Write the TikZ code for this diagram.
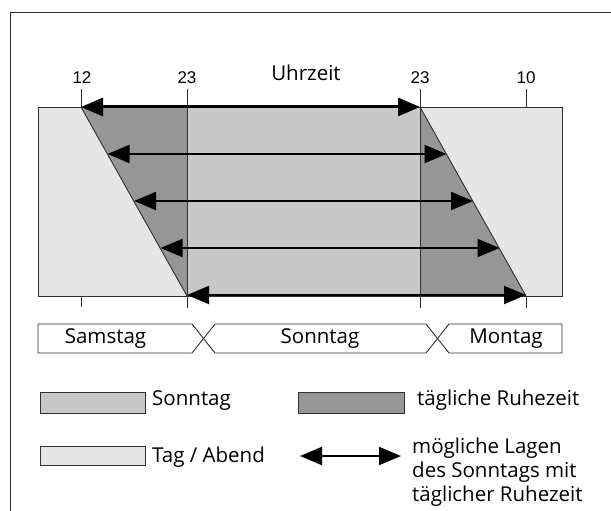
\documentclass[tikz,border=0pt]{standalone}
\usepackage{fontspec}
\setmainfont{Open Sans}
\newfontfamily\numfont{Liberation Sans}
\usetikzlibrary{arrows.meta}
\definecolor{lightg}{HTML}{E6E6E6}
\definecolor{midg}{HTML}{C8C8C8}
\definecolor{darkg}{HTML}{969696}
\definecolor{edge}{HTML}{303030}
\tikzset{
  lbl/.style={inner sep=0pt, anchor=base, font=\fontsize{20.5}{24}\selectfont},
  numlbl/.style={inner sep=0pt, anchor=base, font=\numfont\fontsize{17}{20}\selectfont},
  leglbl/.style={inner sep=0pt, anchor=base west, font=\fontsize{20.5}{24}\selectfont},
  thin edge/.style={draw=edge, line width=0.9pt},
  tick/.style={draw=edge, line width=0.9pt},
  biarrow/.style={{Triangle[length=22pt,width=18pt]}-{Triangle[length=22pt,width=18pt]}, line width=2pt, black},
  toparrow/.style={biarrow, line width=3pt},
  swatch/.style={thin edge}
}
\begin{document}
\begin{tikzpicture}[x=1pt,y=-1pt]
\useasboundingbox (0,0) rectangle (611,511);
% outer frame
\draw[draw=edge, line width=1.5pt] (10.5,520) -- (10.5,12.5) -- (620,12.5);

% main band
\draw[thin edge, fill=lightg] (38,107) rectangle (562,296);
\fill[midg] (187,107) rectangle (420,296);
\fill[darkg] (81,107) -- (187,107) -- (187,296) -- cycle;
\fill[darkg] (420,107) -- (526,296) -- (420,296) -- cycle;
\draw[thin edge] (38,107) rectangle (562,296);
\draw[thin edge] (81,107) -- (187,296);
\draw[thin edge] (420,107) -- (526,296);

% hour labels
\node[numlbl] (h12) at (82,84) {12};
\node[numlbl] (h23a) at (187,84) {23};
\node[lbl] (uhr) at (306,81) {Uhrzeit};
\node[numlbl] (h23b) at (420,84) {23};
\node[numlbl] (h10) at (526,84) {10};

% ticks
\draw[tick] (81,89) -- (81,107);
\draw[tick] (81,296) -- (81,307);
\draw[tick] (187,89) -- (187,308);
\draw[tick] (420,89) -- (420,308);
\draw[tick] (526,89) -- (526,107);
\draw[tick] (526,296) -- (526,308);

% arrow end points
\coordinate (a0l) at (81,107);    \coordinate (a0r) at (420,107);
\coordinate (a1l) at (107.5,154); \coordinate (a1r) at (446.5,154);
\coordinate (a2l) at (134,201);   \coordinate (a2r) at (473,201);
\coordinate (a3l) at (160.5,248); \coordinate (a3r) at (499.5,248);
\coordinate (a4l) at (187,295);   \coordinate (a4r) at (526,295);
\draw[toparrow] (a0l) -- (a0r);
\draw[biarrow] (a1l) -- (a1r);
\draw[biarrow] (a2l) -- (a2r);
\draw[biarrow] (a3l) -- (a3r);
\draw[biarrow] (a4l) -- (a4r);

% day bar
\draw[thin edge, fill=white] (38,324) -- (192,324) -- (203.5,338.5) -- (192,353) -- (38,353) -- cycle;
\draw[thin edge, fill=white] (203.5,338.5) -- (215,324) -- (426,324) -- (437.5,338.5) -- (426,353) -- (215,353) -- cycle;
\draw[thin edge, fill=white] (437.5,338.5) -- (449,324) -- (562,324) -- (562,353) -- (449,353) -- cycle;
\node[lbl] (sa) at (105.5,343) {Samstag};
\node[lbl] (so) at (320,343) {Sonntag};
\node[lbl] (mo) at (506,343) {Montag};

% legend
\draw[swatch, fill=midg] (40,392) rectangle (145,413);
\node[leglbl] (lso) at (152,405) {Sonntag};
\draw[swatch, fill=darkg] (298,392) rectangle (404,413);
\node[leglbl] (lru) at (417,405) {tägliche Ruhezeit};
\draw[swatch, fill=lightg] (40,446) rectangle (145,465);
\node[leglbl] (lta) at (152,462) {Tag / Abend};
\coordinate (la) at (300,456);
\coordinate (lb) at (401,456);
\draw[biarrow] (la) -- (lb);
\node[leglbl, align=left] (lml) at (412,501) {mögliche Lagen\\des Sonntags mit\\täglicher Ruhezeit};
\end{tikzpicture}
\end{document}
